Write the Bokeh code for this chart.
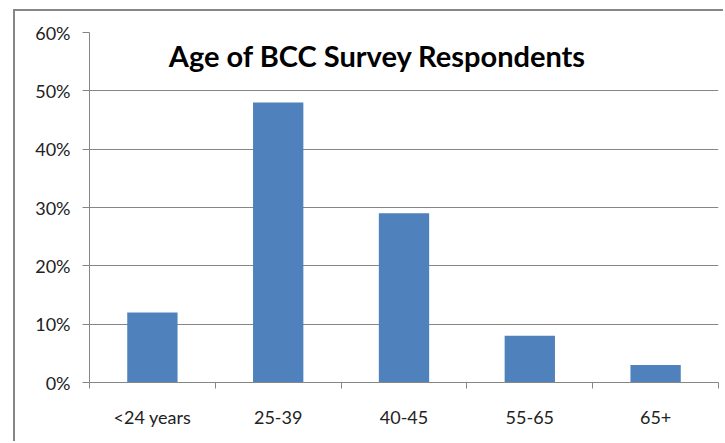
from bokeh.plotting import figure
from bokeh.models import Range1d, FixedTicker, NumeralTickFormatter, Label
from bokeh.embed import file_html
from bokeh.resources import INLINE

# Data
categories = ["<24 years", "25-39", "40-45", "55-65", "65+"]
values = [0.12, 0.48, 0.29, 0.08, 0.03]
y_ticks = [0.0, 0.1, 0.2, 0.3, 0.4, 0.5, 0.6]
title_text = "Age of BCC Survey Respondents"

n = len(categories)
centers = [i + 0.5 for i in range(n)]

grey = "#868686"
font = "Lato"

# canvas starts at (15, 11) inside the chart border
p = figure(width=710, height=432, output_backend="svg", toolbar_location=None,
           x_range=Range1d(0, n), y_range=Range1d(0, 0.6),
           min_border_left=74, min_border_right=7, min_border_top=21, min_border_bottom=61,
           margin=(9, 0, 0, 13),
           styles={"border-left": "2px solid #868686", "border-top": "2px solid #868686"})

p.vbar(x=centers, top=values, width=0.4, bottom=0, color="#4F81BD", line_color=None)

p.outline_line_color = None
p.xgrid.grid_line_color = None
p.ygrid.ticker = FixedTicker(ticks=[t for t in y_ticks if 0 < t < 0.6])
p.ygrid.grid_line_color = grey
p.ygrid.grid_line_width = 1

# y axis
ya = p.yaxis[0]
ya.ticker = FixedTicker(ticks=y_ticks, minor_ticks=[])
ya.formatter = NumeralTickFormatter(format="0%")
ya.axis_line_color = grey
ya.major_tick_line_color = grey
ya.major_tick_out = 7
ya.major_tick_in = 0
ya.minor_tick_line_color = None
ya.major_label_standoff = 12
ya.major_label_text_font = font
ya.major_label_text_font_size = "18px"
ya.major_label_text_color = "#222222"

# x axis: labels at centres, ticks at boundaries
xa = p.xaxis[0]
xa.ticker = FixedTicker(ticks=centers, minor_ticks=list(range(n + 1)))
xa.major_label_overrides = {c: lab for c, lab in zip(centers, categories)}
xa.axis_line_color = grey
xa.major_tick_line_color = None
xa.major_tick_out = 0
xa.major_tick_in = 0
xa.minor_tick_line_color = grey
xa.minor_tick_out = 6
xa.minor_tick_in = 0
xa.major_label_standoff = 17
xa.major_label_text_font = font
xa.major_label_text_font_size = "18px"
xa.major_label_text_color = "#222222"

p.add_layout(Label(x=2.29, y=0.5606, text=title_text, text_align="center",
                   text_baseline="alphabetic", text_font=font, text_font_style="bold",
                   text_font_size="29px", text_color="#000000"))

open("out.html", "w").write(file_html(p, INLINE))
